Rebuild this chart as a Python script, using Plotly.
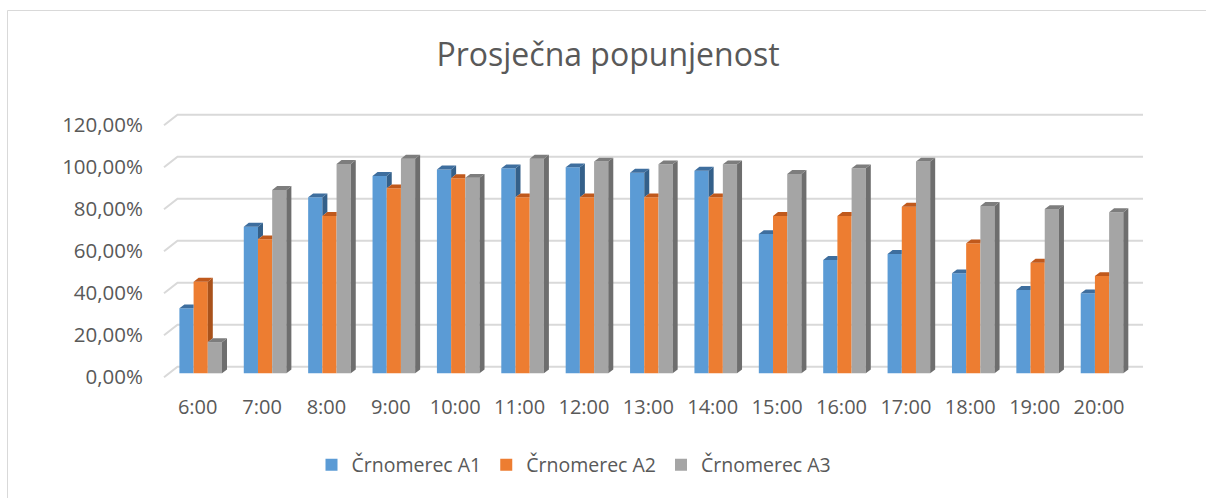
import plotly.graph_objects as go

hours = ["6:00", "7:00", "8:00", "9:00", "10:00", "11:00", "12:00", "13:00",
         "14:00", "15:00", "16:00", "17:00", "18:00", "19:00", "20:00"]
a1 = [0.3095, 0.698, 0.838, 0.940, 0.971, 0.976, 0.981, 0.955, 0.965, 0.663,
      0.540, 0.568, 0.476, 0.397, 0.381]
a2 = [0.436, 0.638, 0.749, 0.881, 0.929, 0.838, 0.838, 0.838, 0.838, 0.749,
      0.749, 0.793, 0.619, 0.527, 0.463]
a3 = [0.148, 0.873, 0.997, 1.022, 0.931, 1.022, 1.008, 0.995, 0.995, 0.949,
      0.976, 1.008, 0.797, 0.782, 0.767]
names = ["Črnomerec A1", "Črnomerec A2", "Črnomerec A3"]
series = [a1, a2, a3]
front_colors = ["#5B9BD5", "#ED7D31", "#A5A5A5"]
top_colors = ["#3E6E9E", "#C0591C", "#7D7D7D"]
side_colors = ["#34608A", "#A9521B", "#6E6E6E"]
y_ticks = [0, 0.2, 0.4, 0.6, 0.8, 1.0, 1.2]

# geometry (pixel scale helpers)
PX_X = 64.38      # px per category unit
PX_Y = 210.0      # px per 1.0 (100%)
W = 14.2 / PX_X   # bar width in x units
DX = 5.0 / PX_X   # 3D depth x shift
DY = 3.9 / PX_Y   # 3D depth y shift
offsets = [-1.5 * W, -0.5 * W, 0.5 * W]

FONT = "Open Sans"
TXT = "#595959"

fig = go.Figure()

n = len(hours)
for s, vals in enumerate(series):
    fig.add_trace(go.Bar(
        x=list(range(n)), y=vals, name=names[s], width=W, offset=offsets[s],
        marker=dict(color=front_colors[s], line=dict(width=0)),
        hovertemplate="%{y:.2%}<extra>" + names[s] + "</extra>",
    ))

for s, vals in enumerate(series):
    sx, sy, tx, ty = [], [], [], []
    for i, v in enumerate(vals):
        xl = i + offsets[s]
        xr = xl + W
        nxt = series[s + 1][i] if s < 2 else None
        # side face (visible part only)
        low = 0.0 if nxt is None else nxt
        if v > low:
            sx += [xr, xr + DX, xr + DX, xr, xr, None]
            sy += [low, low + DY, v + DY, v, low, None]
        # top face
        if nxt is None or v >= nxt:
            tx += [xl, xr, xr + DX, xl + DX, xl, None]
            ty += [v, v, v + DY, v + DY, v, None]
        else:
            tx += [xl, xr, xr, xl + DX, xl, None]
            ty += [v, v, v + DY, v + DY, v, None]
    fig.add_trace(go.Scatter(x=sx, y=sy, mode="lines", fill="toself",
                             fillcolor=side_colors[s], line=dict(width=0),
                             hoverinfo="skip", showlegend=False))
    fig.add_trace(go.Scatter(x=tx, y=ty, mode="lines", fill="toself",
                             fillcolor=top_colors[s], line=dict(width=0),
                             hoverinfo="skip", showlegend=False))

# back-wall gridlines with side-wall stubs
x_front = (164 - 200.7) / PX_X
x_back = (177.5 - 200.7) / PX_X
x_end = (1143 - 200.7) / PX_X
for t in y_ticks:
    yb = t + 6.6 / PX_Y
    yf = t - 4.0 / PX_Y
    fig.add_shape(type="path", xref="x", yref="y", layer="below",
                  path=f"M{x_front},{yf} L{x_back},{yb} L{x_end},{yb}",
                  line=dict(color="#D9D9D9", width=2))

# chart border (only left/top edges are visible in the window)
L, T, B = 160, 110, 382
def px_x(p): return (p - L) / (1146 - L)
def px_y(p): return (B - p) / (B - T)
fig.add_shape(type="path", xref="paper", yref="paper", layer="below",
              path=f"M{px_x(7.5)},{px_y(498)} L{px_x(7.5)},{px_y(10.5)} L{px_x(1206)},{px_y(10.5)}",
              line=dict(color="#D9D9D9", width=1))

fig.update_layout(
    width=1206, height=498,
    margin=dict(l=160, r=60, t=110, b=116, autoexpand=False),
    paper_bgcolor="white", plot_bgcolor="white",
    separators=", ",
    barmode="overlay",
    font=dict(family=FONT, color=TXT, size=20),
    title=dict(text="Prosječna popunjenost", x=608 / 1206, xanchor="center",
               y=1 - 55 / 498, yanchor="middle", yref="container",
               font=dict(family=FONT, size=32, color=TXT)),
    xaxis=dict(range=[(160 - 200.7) / PX_X, (1146 - 200.7) / PX_X],
               tickvals=list(range(n)), ticktext=hours,
               showgrid=False, zeroline=False, showline=False, ticks="",
               ticklabelstandoff=11, ticklabelshift=-3,
               tickfont=dict(size=20, color=TXT, family=FONT)),
    yaxis=dict(range=[(373.3 - 382) / PX_Y, (373.3 - 110) / PX_Y],
               tickvals=y_ticks, tickformat=".2%",
               showgrid=False, zeroline=False, showline=False, ticks="",
               ticklabelstandoff=16, ticklabelshift=4,
               tickfont=dict(size=20.5, color=TXT, family=FONT)),
    legend=dict(orientation="h", x=574 / 1206, xanchor="center", xref="container",
                y=1 - 465 / 498, yanchor="middle", yref="container",
                font=dict(size=19.5, color=TXT, family=FONT),
                bgcolor="rgba(0,0,0,0)"),
    showlegend=True,
)

fig.write_html("out.html", config={"displayModeBar": False},
               post_script="document.body.style.margin='0';document.body.style.overflow='hidden';")
